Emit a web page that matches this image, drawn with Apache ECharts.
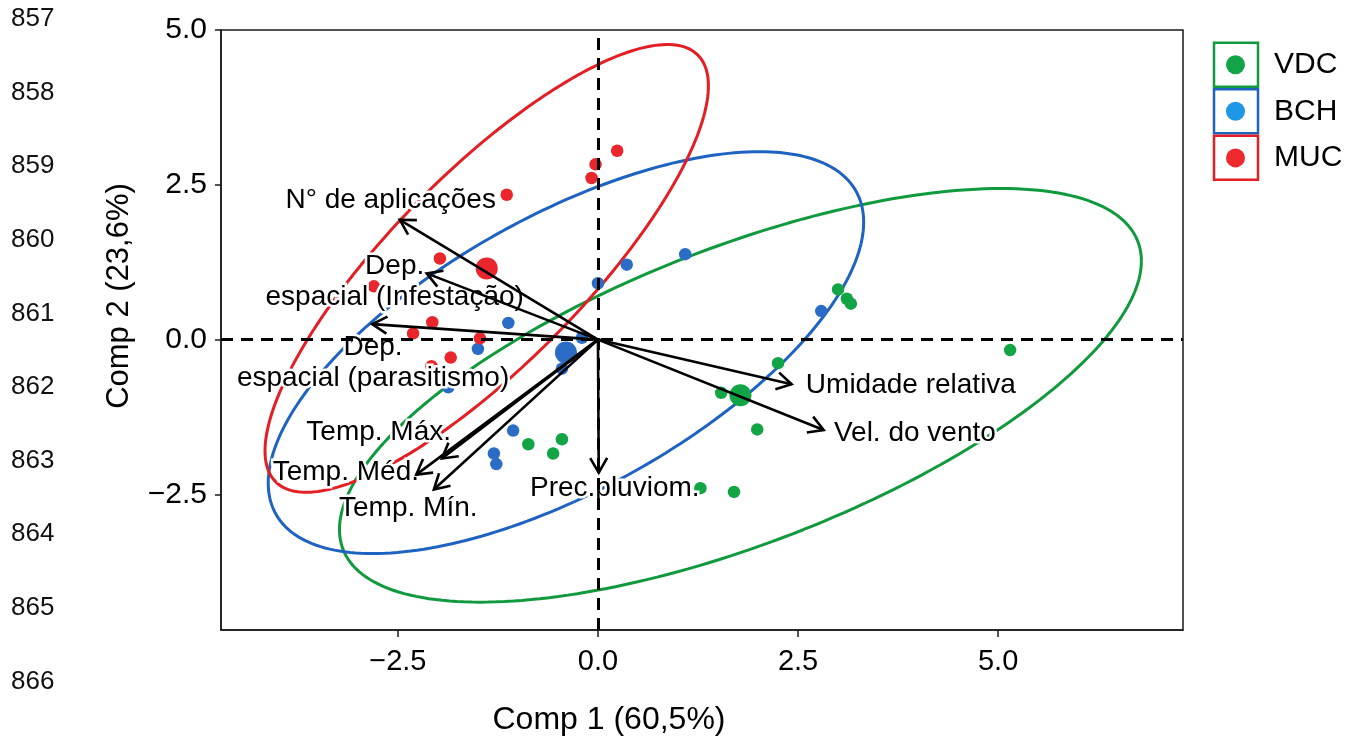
<!DOCTYPE html>
<html>
<head>
<meta charset="utf-8">
<script src="https://cdn.jsdelivr.net/npm/echarts@6/dist/echarts.min.js"></script>
<style>
html,body{margin:0;padding:0;background:#fff;}
#main{width:1367px;height:742px;}
</style>
</head>
<body>
<div id="main"></div>
<script>
// ---------- DATA ----------
var groupNames = ['VDC', 'BCH', 'MUC'];

var vdcX = [3.00, 3.11, 3.16, 2.25, 1.54, 1.99, 1.28, 1.70, 5.15, -0.87, -0.45, -0.56];
var vdcY = [0.81, 0.66, 0.58, -0.38, -0.86, -1.45, -2.40, -2.46, -0.17, -1.69, -1.61, -1.84];

var bchX = [0.00, 0.36, 1.09, 2.79, -0.20, -1.12, -1.50, -0.45, -1.06, -1.30, -1.27, -1.87];
var bchY = [0.91, 1.21, 1.38, 0.46, 0.03, 0.27, -0.15, -0.47, -1.47, -1.84, -2.01, -0.77];

var mucX = [0.24, -0.03, -0.08, -1.14, -1.975, -2.80, -2.07, -2.31, -1.475, -1.84, -2.08];
var mucY = [3.05, 2.83, 2.61, 2.34, 1.31, 0.86, 0.28, 0.10, 0.02, -0.29, -0.43];

// group means (large markers) and ellipse centres
var centroidX = [1.78, -0.40, -1.39];
var centroidY = [-0.90, -0.21, 1.15];

// ellipses: half-extent along x, half-extent along y, correlation
var ellipseRx = [5.01, 3.72, 2.77];
var ellipseRy = [3.34, 3.245, 3.616];
var ellipseCorr = [0.649, 0.649, 0.815];

// variable loadings (arrow tips)
var varNames = ['N° de aplicações', 'Dep.\nespacial (Infestação)', 'Dep.\nespacial (parasitismo)',
  'Temp. Máx.', 'Temp. Méd.', 'Temp. Mín.', 'Prec.pluviom.', 'Umidade relativa', 'Vel. do vento'];
var tipX = [-2.475, -2.14, -2.82, -1.95, -2.27, -2.05, 0.01, 2.42, 2.82];
var tipY = [1.935, 1.07, 0.25, -1.92, -2.18, -2.42, -2.15, -0.72, -1.46];
var labelX = [-2.59, -2.54, -2.81, -2.74, -3.15, -2.37, 0.21, 3.91, 3.96];
var labelY = [2.25, 0.94, -0.37, -1.49, -2.14, -2.72, -2.40, -0.74, -1.52];

var tickValues = [-2.5, 0, 2.5, 5];
var lineNumbers = ['857', '858', '859', '860', '861', '862', '863', '864', '865', '866'];

// ---------- STYLE ----------
var pointColors = ['#12A445', '#2A6CC6', '#E8262B'];
var ellipseColors = ['#11993D', '#1F63C2', '#E31E24'];
var legendColors = ['#12A445', '#1E98E6', '#EE2A2E'];
var FONT = '"Liberation Sans", Arial, sans-serif';

var groupX = [vdcX, bchX, mucX];
var groupY = [vdcY, bchY, mucY];

function ellipsePoints(g) {
  var pts = [];
  var n = 240;
  var s = Math.sqrt(1 - ellipseCorr[g] * ellipseCorr[g]);
  for (var k = 0; k <= n; k++) {
    var t = 2 * Math.PI * k / n;
    pts.push([
      centroidX[g] + ellipseRx[g] * Math.cos(t),
      centroidY[g] + ellipseRy[g] * (ellipseCorr[g] * Math.cos(t) + s * Math.sin(t))
    ]);
  }
  return pts;
}

function fmt(v) {
  return (v < 0 ? '\u2212' : '') + Math.abs(v).toFixed(1);
}

var series = [];

// zero reference lines
series.push({
  type: 'line', name: 'zero', data: [], z: 1, silent: true,
  markLine: {
    silent: true, symbol: 'none', animation: false,
    label: {show: false},
    lineStyle: {color: '#000', width: 3, type: [12, 8]},
    data: [{xAxis: 0}, {yAxis: 0}]
  }
});

// ellipses
for (var g = 0; g < 3; g++) {
  series.push({
    type: 'line', name: groupNames[g] + ' ellipse', data: ellipsePoints(g),
    showSymbol: false, symbol: 'none', smooth: false, z: 2, silent: true,
    lineStyle: {color: ellipseColors[g], width: 3},
    animation: false
  });
}

// points
for (var g2 = 0; g2 < 3; g2++) {
  var d = groupX[g2].map(function (x, i) { return [x, groupY[g2][i]]; });
  d.push({value: [centroidX[g2], centroidY[g2]], symbolSize: 22});
  series.push({
    type: 'scatter', name: groupNames[g2], data: d, symbol: 'circle', symbolSize: 12.5,
    itemStyle: {color: pointColors[g2], opacity: 1}, z: 3, animation: false
  });
}

// variable labels (white halo + black text)
series.push({
  type: 'custom', name: 'variable labels', z: 4, silent: true, animation: false,
  data: labelX.map(function (x, i) { return [x, labelY[i], i]; }),
  renderItem: function (params, api) {
    var p = api.coord([api.value(0), api.value(1)]);
    var txt = varNames[api.value(2)];
    var base = {text: txt, fontSize: 28, fontFamily: FONT, lineHeight: 31, align: 'center', verticalAlign: 'middle'};
    return {
      type: 'group',
      children: [
        {type: 'text', x: p[0], y: p[1], style: Object.assign({}, base, {fill: '#fff', stroke: '#fff', lineWidth: 5})},
        {type: 'text', x: p[0], y: p[1], style: Object.assign({}, base, {fill: '#000'})}
      ]
    };
  }
});

// arrows
series.push({
  type: 'custom', name: 'arrows', z: 6, silent: true, animation: false,
  data: tipX.map(function (x, i) { return [x, tipY[i]]; }),
  renderItem: function (params, api) {
    var o = api.coord([0, 0]);
    var p = api.coord([api.value(0), api.value(1)]);
    var ang = Math.atan2(p[1] - o[1], p[0] - o[0]);
    var L = 17, a = Math.PI / 6;
    var h1 = [p[0] - L * Math.cos(ang - a), p[1] - L * Math.sin(ang - a)];
    var h2 = [p[0] - L * Math.cos(ang + a), p[1] - L * Math.sin(ang + a)];
    return {
      type: 'group',
      children: [
        {type: 'line', shape: {x1: o[0], y1: o[1], x2: p[0], y2: p[1]},
          style: {stroke: '#000', lineWidth: 2.6}},
        {type: 'polyline', shape: {points: [h1, p, h2]},
          style: {stroke: '#000', lineWidth: 2.6, fill: null}}
      ]
    };
  }
});

var graphics = [];
lineNumbers.forEach(function (t, i) {
  graphics.push({
    type: 'text', left: 11, top: 6 + i * 73.6, silent: true,
    style: {text: t, fontSize: 26, fontFamily: FONT, fill: '#111'}
  });
});
var boxTops = [42.7, 89.3, 135.7];
for (var b = 0; b < 3; b++) {
  graphics.push({
    type: 'rect', silent: true,
    shape: {x: 1214, y: boxTops[b], width: 44, height: 44},
    style: {fill: 'none', stroke: ellipseColors[b], lineWidth: 2.5}
  });
}

var option = {
  backgroundColor: '#fff',
  animation: false,
  textStyle: {fontFamily: FONT},
  grid: {left: 221, top: 30, right: 184, bottom: 112, show: true, borderColor: '#1a1a1a', borderWidth: 1.5, backgroundColor: 'transparent'},
  legend: {
    orient: 'vertical', left: 1226, top: 42.7, padding: 0, itemGap: 2.6,
    itemWidth: 19, itemHeight: 19, icon: 'circle',
    textStyle: {fontSize: 30, lineHeight: 44, color: '#000', fontFamily: FONT, padding: [0, 0, 0, 24]},
    data: groupNames.map(function (n, i) { return {name: n, itemStyle: {color: legendColors[i]}}; }),
    selectedMode: false
  },
  xAxis: {
    type: 'value', min: -4.71, max: 7.31,
    name: 'Comp 1 (60,5%)', nameLocation: 'middle', nameGap: 74,
    nameTextStyle: {fontSize: 32, color: '#000', fontFamily: FONT, padding: [0, 186, 0, 0]},
    axisLine: {show: true, onZero: false, lineStyle: {color: '#1a1a1a', width: 1.5}},
    axisTick: {show: true, inside: false, length: 7, customValues: tickValues, lineStyle: {color: '#1a1a1a', width: 1.5}},
    axisLabel: {show: true, customValues: tickValues, formatter: fmt, fontSize: 29, color: '#000', margin: 17, fontFamily: FONT},
    splitLine: {show: false}
  },
  yAxis: {
    type: 'value', min: -4.69, max: 5.0,
    name: 'Comp 2 (23,6%)', nameLocation: 'middle', nameGap: 86,
    nameTextStyle: {fontSize: 31, color: '#000', fontFamily: FONT, padding: [0, 0, 0, 68]},
    axisLine: {show: true, onZero: false, lineStyle: {color: '#1a1a1a', width: 1.5}},
    axisTick: {show: true, inside: false, length: 6, customValues: tickValues, lineStyle: {color: '#1a1a1a', width: 1.5}},
    axisLabel: {show: true, customValues: tickValues, formatter: fmt, fontSize: 30, color: '#000', margin: 14, fontFamily: FONT},
    splitLine: {show: false}
  },
  graphic: graphics,
  series: series
};

var chart = echarts.init(document.getElementById('main'), null, {renderer: 'canvas'});
chart.setOption(option);
</script>
</body>
</html>
